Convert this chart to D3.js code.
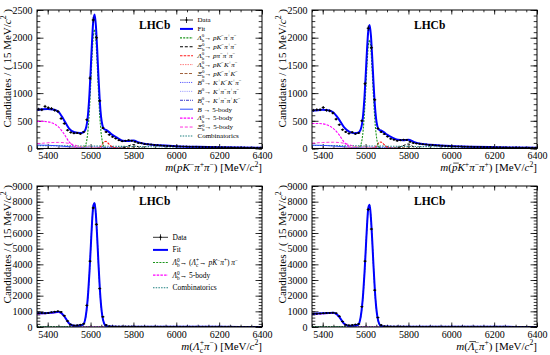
<!DOCTYPE html>
<meta charset="utf-8">
<style>
body{margin:0;background:#fff}
svg{display:block}
text{font-family:"Liberation Serif","Times New Roman",serif;fill:#000}
</style>
<svg width="550" height="355"></svg>
<script src="https://d3js.org/d3.v7.min.js"></script>
<script>
// binning of all four mass spectra
const massLo = 5350, massHi = 6400, binWidth = 15;
const massTicks = [5400, 5600, 5800, 6000, 6200, 6400];

// data: candidates per 15 MeV bin
const dataPKpipi = [
  710, 700, 760, 735, 720, 690, 670, 540, 450, 330,
  290, 275, 280, 265, 300, 520, 1270, 2320, 2000, 860,
  370, 300, 250, 210, 180, 150, 130, 140, 150, 140,
  120, 100, 95, 80, 75, 70, 65, 60, 55, 50,
  45, 45, 40, 40, 38, 35, 36, 33, 30, 32,
  28, 27, 29, 25, 24, 26, 22, 21, 23, 20,
  18, 19, 17, 16, 18, 15, 14, 15, 13, 12];
const dataPbarKpipi = [
  690, 700, 700, 740, 690, 680, 640, 530, 430, 340,
  300, 270, 295, 265, 280, 500, 1170, 2170, 1820, 880,
  360, 300, 260, 215, 175, 160, 140, 150, 160, 155,
  120, 100, 90, 85, 75, 70, 65, 62, 56, 52,
  48, 44, 42, 40, 38, 36, 35, 33, 31, 30,
  29, 27, 28, 25, 24, 25, 22, 21, 22, 20,
  19, 18, 17, 17, 16, 15, 15, 14, 13, 12];
const dataLcpi = [
  880, 900, 880, 900, 940, 980, 1000, 960, 720, 380,
  160, 100, 110, 150, 200, 1380, 4200, 7600, 6550, 2450,
  650, 130, 50, 35, 30, 28, 27, 26, 25, 24,
  23, 22, 22, 21, 20, 20, 19, 18, 18, 17,
  16, 16, 15, 15, 14, 14, 13, 13, 12, 12,
  11, 11, 10, 10, 10, 9, 9, 9, 8, 8,
  8, 7, 7, 7, 7, 6, 6, 6, 6, 5];
const dataLcbarpi = [
  840, 850, 860, 870, 890, 900, 910, 880, 680, 350,
  150, 110, 120, 160, 190, 1300, 4200, 7500, 6250, 2350,
  600, 120, 45, 33, 30, 28, 26, 25, 24, 23,
  22, 22, 21, 20, 20, 19, 18, 18, 17, 16,
  16, 15, 15, 14, 14, 13, 13, 12, 12, 11,
  11, 10, 10, 10, 9, 9, 9, 8, 8, 8,
  7, 7, 7, 7, 6, 6, 6, 6, 5, 5];

// fit curves and components, [mass, candidates]
const fitPKpipi = [[5350,700],[5375,710],[5400,715],[5425,705],[5450,665],[5475,520],[5500,360],[5525,292],[5550,278],[5565,288],[5577,350],[5589,659],[5595,998],[5601,1458],[5607,1949],[5613,2316],[5619,2418],[5625,2211],[5631,1780],[5637,1282],[5643,855],[5649,571],[5655,425],[5663,352],[5672,335],[5685,300],[5700,250],[5725,190],[5750,140],[5775,135],[5800,145],[5825,110],[5850,85],[5900,65],[5950,52],[6000,42],[6100,30],[6200,22],[6300,16],[6400,12]];
const sigPKpipi = [[5350,0],[5550,0],[5565,6],[5577,65],[5589,374],[5595,715],[5601,1178],[5607,1671],[5613,2041],[5619,2146],[5625,1941],[5631,1512],[5637,1014],[5643,585],[5649,291],[5655,125],[5663,32],[5672,5],[5685,0],[6400,0]];
const xibPKpipi = [[5350,0],[5725,0],[5750,10],[5775,45],[5800,72],[5825,25],[5850,3],[5900,0],[6400,0]];
const lbPpipiPKpipi = [[5350,0],[5625,0],[5637,8],[5643,20],[5649,45],[5655,80],[5663,118],[5672,128],[5685,82],[5700,30],[5725,4],[5750,0],[6400,0]];
const lbPKKpi = [[5350,0],[5480,5],[5540,25],[5580,30],[5620,15],[5680,0],[6400,0]];
const xibPKpiK = [[5350,0],[5680,0],[5730,10],[5770,15],[5810,5],[5850,0],[6400,0]];
const b0KKKpi = [[5350,0],[5500,5],[5560,20],[5600,28],[5640,20],[5700,5],[5760,0],[6400,0]];
const b0Kpipipi = [[5350,0],[5560,5],[5620,25],[5660,30],[5700,15],[5760,2],[5800,0],[6400,0]];
const bsKpipiK = [[5350,0],[5600,3],[5660,15],[5700,20],[5740,10],[5800,0],[6400,0]];
const b5PKpipi = [[5350,62],[5400,58],[5450,48],[5500,32],[5550,12],[5600,2],[5650,0],[6400,0]];
const lb5PKpipi = [[5350,490],[5375,490],[5400,482],[5425,455],[5450,390],[5475,270],[5500,120],[5525,35],[5550,5],[5575,0],[6400,0]];
const xb5PKpipi = [[5350,85],[5375,95],[5400,103],[5425,108],[5450,110],[5475,105],[5500,92],[5525,65],[5550,30],[5575,8],[5600,0],[6400,0]];
const combPKpipi = [[5350,52],[5450,49],[5550,46],[5650,42],[5750,38],[5850,34],[5950,30],[6050,25],[6150,20],[6250,15],[6400,10]];

const fitPbarKpipi = [[5350,680],[5375,690],[5400,700],[5425,690],[5450,650],[5475,530],[5500,380],[5525,300],[5550,275],[5565,283],[5577,341],[5589,623],[5595,933],[5601,1353],[5607,1802],[5613,2137],[5619,2230],[5625,2040],[5631,1646],[5637,1192],[5643,802],[5649,541],[5655,404],[5663,339],[5672,325],[5685,295],[5700,250],[5725,195],[5750,158],[5775,150],[5800,160],[5825,120],[5850,90],[5900,68],[5950,54],[6000,44],[6100,32],[6200,24],[6300,17],[6400,13]];
const sigPbarKpipi = [[5350,0],[5550,0],[5565,5],[5577,59],[5589,341],[5595,653],[5601,1075],[5607,1526],[5613,1863],[5619,1959],[5625,1772],[5631,1380],[5637,926],[5643,534],[5649,266],[5655,114],[5663,29],[5672,5],[5685,0],[6400,0]];
const xibPbarKpipi = [[5350,0],[5725,0],[5750,12],[5775,50],[5800,82],[5825,28],[5850,3],[5900,0],[6400,0]];
const lbPpipiPbarKpipi = [[5350,0],[5625,0],[5637,8],[5643,18],[5649,40],[5655,72],[5663,108],[5672,118],[5685,75],[5700,28],[5725,4],[5750,0],[6400,0]];
const b5PbarKpipi = [[5350,60],[5400,56],[5450,46],[5500,30],[5550,12],[5600,2],[5650,0],[6400,0]];
const lb5PbarKpipi = [[5350,450],[5375,452],[5400,445],[5425,420],[5450,360],[5475,255],[5500,115],[5525,35],[5550,5],[5575,0],[6400,0]];
const xb5PbarKpipi = [[5350,95],[5375,102],[5400,108],[5425,112],[5450,113],[5475,108],[5500,95],[5525,68],[5550,32],[5575,8],[5600,0],[6400,0]];
const combPbarKpipi = [[5350,55],[5450,52],[5550,48],[5650,44],[5750,40],[5850,35],[5950,31],[6050,26],[6150,21],[6250,16],[6400,11]];

const fitLcpi = [[5350,870],[5375,880],[5400,900],[5425,930],[5450,970],[5475,730],[5500,230],[5525,80],[5550,98],[5565,150],[5577,645],[5589,2225],[5595,3545],[5601,5125],[5607,6715],[5613,7760],[5619,7920],[5625,7140],[5631,5688],[5637,4005],[5643,2490],[5649,1378],[5655,678],[5663,229],[5672,68],[5685,30],[5700,25],[5750,22],[5800,20],[5900,17],[6000,15],[6200,10],[6400,6]];
const sigLcpi = [[5350,0],[5500,0],[5525,10],[5550,70],[5565,120],[5577,620],[5589,2200],[5595,3520],[5601,5100],[5607,6690],[5613,7735],[5619,7895],[5625,7115],[5631,5663],[5637,3980],[5643,2465],[5649,1353],[5655,653],[5663,204],[5672,43],[5685,5],[5700,0],[6400,0]];
const lb5Lcpi = [[5350,835],[5375,845],[5400,865],[5425,895],[5450,935],[5475,700],[5500,200],[5525,30],[5550,2],[5575,0],[6400,0]];
const combLcpi = [[5350,35],[5450,32],[5550,28],[5650,25],[5750,22],[5850,19],[6000,15],[6200,10],[6400,6]];

const fitLcbarpi = [[5350,835],[5375,855],[5400,875],[5425,895],[5450,912],[5475,690],[5500,210],[5525,70],[5550,95],[5565,145],[5577,630],[5589,2170],[5595,3455],[5601,4995],[5607,6545],[5613,7620],[5619,7800],[5625,6960],[5631,5545],[5637,3905],[5643,2425],[5649,1345],[5655,662],[5663,223],[5672,66],[5685,30],[5700,25],[5750,22],[5800,20],[5900,17],[6000,15],[6200,10],[6400,6]];
const sigLcbarpi = [[5350,0],[5500,0],[5525,10],[5550,68],[5565,117],[5577,605],[5589,2145],[5595,3430],[5601,4970],[5607,6520],[5613,7590],[5619,7770],[5625,6935],[5631,5520],[5637,3880],[5643,2400],[5649,1320],[5655,637],[5663,199],[5672,42],[5685,5],[5700,0],[6400,0]];
const lb5Lcbarpi = [[5350,800],[5375,820],[5400,840],[5425,860],[5450,877],[5475,660],[5500,180],[5525,25],[5550,2],[5575,0],[6400,0]];
const combLcbarpi = [[5350,35],[5450,32],[5550,28],[5650,25],[5750,22],[5850,19],[6000,15],[6200,10],[6400,6]];

// legend text
const legendTop = ["Data", "Fit",
  "|Λ|_{b}^{0}→ |pK|^{−}|π|^{+}|π|^{−}",
  "|Ξ|_{b}^{0}→ |pK|^{−}|π|^{+}|π|^{−}",
  "|Λ|_{b}^{0}→ |pπ|^{−}|π|^{+}|π|^{−}",
  "|Λ|_{b}^{0}→ |pK|^{−}|K|^{+}|π|^{−}",
  "|Ξ|_{b}^{0}→ |pK|^{−}|π|^{+}|K|^{−}",
  "|B|^{0}→ |K|^{+}|K|^{−}|K|^{+}|π|^{−}",
  "|B|^{0}→ |K|^{+}|π|^{−}|π|^{+}|π|^{−}",
  "|B|_{s}^{0}→ |K|^{+}|π|^{−}|π|^{+}|K|^{−}",
  "|B| → 5-body",
  "|Λ|_{b}^{0}→ 5-body",
  "|Ξ|_{b}^{0}→ 5-body",
  "Combinatorics"];
const legendTopKeys = ["data","fit","sig","xib","lbppp","lbpkk","xibpk","b0kkk","b0kpp","bs","b5","lb5","xb5","comb"];
const legendBottom = ["Data", "Fit",
  "|Λ|_{b}^{0}→ (|Λ|_{c}^{+}→ |pK|^{−}|π|^{+}) |π|^{−}",
  "|Λ|_{b}^{0}→ 5-body",
  "Combinatorics"];
const legendBottomKeys = ["data","fit","sig","lb5","comb"];

const styles = {
  fit:   {stroke: "#0000ff", dash: null, w: 2},
  sig:   {stroke: "#1b951b", dash: "2,1.2", w: 1.1},
  xib:   {stroke: "#000000", dash: "3,1.8", w: 1},
  lbppp: {stroke: "#ff1a1a", dash: "2.5,1.2", w: 1.1},
  lbpkk: {stroke: "#ff8080", dash: "1.5,1", w: 1},
  xibpk: {stroke: "#a0603a", dash: "3,1.5", w: 1},
  b0kkk: {stroke: "#5c5cff", dash: "1.2,1", w: 1},
  b0kpp: {stroke: "#a3a3ff", dash: "1.2,1", w: 1},
  bs:    {stroke: "#3a3acc", dash: "3,1,1,1", w: 1},
  b5:    {stroke: "#2b4bff", dash: null, w: 1},
  lb5:   {stroke: "#ff00ff", dash: "2.5,1.2", w: 1.1},
  xb5:   {stroke: "#ff33dd", dash: "3,1.8", w: 1},
  comb:  {stroke: "#1f8080", dash: "1.5,1.2", w: 1.1}
};

const panels = [
  {x0: 37, x1: 262, y0: 10, y1: 148.5, yMax: 2500, yStep: 500, yMinor: 100,
   data: dataPKpipi, fit: fitPKpipi,
   comps: [["comb",combPKpipi],["b5",b5PKpipi],["xb5",xb5PKpipi],["lb5",lb5PKpipi],["bs",bsKpipiK],["b0kpp",b0Kpipipi],["b0kkk",b0KKKpi],["xibpk",xibPKpiK],["lbpkk",lbPKKpi],["lbppp",lbPpipiPKpipi],["xib",xibPKpipi],["sig",sigPKpipi]],
   xTitle: "|m|(|pK|^{−}|π|^{+}|π|^{−}) [MeV/|c|^{2}]",
   legend: {labels: legendTop, keys: legendTopKeys, x: 180, y: 20, dy: 8.92, len: 13, fs: 7}},
  {x0: 312, x1: 537, y0: 10, y1: 148.5, yMax: 2500, yStep: 500, yMinor: 100,
   data: dataPbarKpipi, fit: fitPbarKpipi,
   comps: [["comb",combPbarKpipi],["b5",b5PbarKpipi],["xb5",xb5PbarKpipi],["lb5",lb5PbarKpipi],["bs",bsKpipiK],["b0kpp",b0Kpipipi],["b0kkk",b0KKKpi],["xibpk",xibPKpiK],["lbpkk",lbPKKpi],["lbppp",lbPpipiPbarKpipi],["xib",xibPbarKpipi],["sig",sigPbarKpipi]],
   xTitle: "|m|(~{p}|K|^{+}|π|^{−}|π|^{+}) [MeV/|c|^{2}]"},
  {x0: 37, x1: 262, y0: 186, y1: 327, yMax: 9000, yStep: 1000, yMinor: 200,
   data: dataLcpi, fit: fitLcpi,
   comps: [["comb",combLcpi],["lb5",lb5Lcpi],["sig",sigLcpi]],
   xTitle: "|m|(|Λ|_{c}^{+}|π|^{−}) [MeV/|c|^{2}]",
   legend: {labels: legendBottom, keys: legendBottomKeys, x: 153, y: 237.3, dy: 12.6, len: 15, fs: 7.5}},
  {x0: 312, x1: 537, y0: 186, y1: 327, yMax: 9000, yStep: 1000, yMinor: 200,
   data: dataLcbarpi, fit: fitLcbarpi,
   comps: [["comb",combLcbarpi],["lb5",lb5Lcbarpi],["sig",sigLcbarpi]],
   xTitle: "|m|(~{Λ}_{c}^{−}|π|^{+}) [MeV/|c|^{2}]"}
];

const svg = d3.select("svg");

// tiny TLatex-like markup: |..| italic, _{..} sub, ^{..} sup, ~{..} overline
function rich(sel, src) {
  const fs = parseFloat(sel.attr("font-size"));
  let italic = false, cur = 0, pendingDx = 0, i = 0, buf = "", nChars = 0;
  const bars = [];
  function span(txt, size, shift) {
    const t = sel.append("tspan").text(txt)
      .attr("font-size", size)
      .attr("font-style", italic ? "italic" : "normal")
      .attr("dy", shift - cur);
    cur = shift;
    nChars += txt.length;
    if (pendingDx) { t.attr("dx", pendingDx); pendingDx = 0; }
    return t;
  }
  function group(j) {
    const k = src.indexOf("}", j);
    return [src.slice(j + 1, k), k + 1];
  }
  const flush = () => { if (buf) { span(buf, fs, 0); buf = ""; } };
  while (i < src.length) {
    const c = src[i];
    if (c === "|") { flush(); italic = !italic; i++; }
    else if (c === "_" || c === "^") {
      flush();
      const [g1, n1] = group(i + 1);
      const s1 = span(g1, fs * 0.7, c === "_" ? fs * 0.3 : -fs * 0.4);
      i = n1;
      if (c === "_" && src[i] === "^") {
        const [g2, n2] = group(i + 1);
        const w1 = s1.node().getComputedTextLength();
        pendingDx = -w1;
        const s2 = span(g2, fs * 0.7, -fs * 0.4);
        pendingDx = Math.max(0, w1 - s2.node().getComputedTextLength());
        i = n2;
      }
    }
    else if (c === "~") {
      flush();
      const [g, n] = group(i + 1);
      const was = italic; italic = true;
      bars.push([nChars, g.length]);
      span(g, fs, 0);
      italic = was; i = n;
    }
    else { buf += c; i++; }
  }
  flush();
  // overlines drawn as lines above the marked letters
  const node = sel.node();
  bars.forEach(([s, len]) => {
    const a = node.getStartPositionOfChar(s), b = node.getEndPositionOfChar(s + len - 1);
    d3.select(node.parentNode).append("line")
      .attr("x1", a.x + fs * 0.12).attr("x2", b.x + fs * 0.12)
      .attr("y1", a.y - fs * 0.72).attr("y2", a.y - fs * 0.72)
      .attr("stroke", "#000").attr("stroke-width", 0.7);
  });
}

function styleLine(sel, key) {
  const s = styles[key];
  sel.attr("fill", "none").attr("stroke", s.stroke).attr("stroke-width", s.w)
    .attr("stroke-dasharray", s.dash);
}

panels.forEach((p, pi) => {
  const x = d3.scaleLinear().domain([massLo, massHi]).range([p.x0, p.x1]);
  const y = d3.scaleLinear().domain([0, p.yMax]).range([p.y1, p.y0]);
  const g = svg.append("g");

  const clipId = "clip" + pi;
  svg.append("clipPath").attr("id", clipId).append("rect")
    .attr("x", p.x0).attr("y", p.y0).attr("width", p.x1 - p.x0).attr("height", p.y1 - p.y0);

  // axes, ROOT style ticks inside on all sides
  const xMinor = d3.range(massLo, massHi + 1, 50);
  const yMinor = d3.range(0, p.yMax + 1, p.yMinor);
  const yMajor = d3.range(0, p.yMax + 1, p.yStep);
  const axes = [
    [d3.axisBottom(x).tickValues(massTicks).tickSize(-4.5).tickPadding(3.5).tickFormat(d3.format("d")), `translate(0,${p.y1})`, true],
    [d3.axisBottom(x).tickValues(xMinor).tickSize(-2.3).tickFormat(""), `translate(0,${p.y1})`],
    [d3.axisTop(x).tickValues(massTicks).tickSize(-4.5).tickFormat(""), `translate(0,${p.y0})`],
    [d3.axisTop(x).tickValues(xMinor).tickSize(-2.3).tickFormat(""), `translate(0,${p.y0})`],
    [d3.axisLeft(y).tickValues(yMajor).tickSize(-6.5).tickPadding(4.5).tickFormat(d3.format("d")), `translate(${p.x0},0)`, true],
    [d3.axisLeft(y).tickValues(yMinor).tickSize(-3.3).tickFormat(""), `translate(${p.x0},0)`],
    [d3.axisRight(y).tickValues(yMajor).tickSize(-6.5).tickFormat(""), `translate(${p.x1},0)`],
    [d3.axisRight(y).tickValues(yMinor).tickSize(-3.3).tickFormat(""), `translate(${p.x1},0)`]
  ];
  axes.forEach(([ax, tr, labels]) => {
    const a = g.append("g").attr("transform", tr).call(ax);
    a.select(".domain").remove();
    a.selectAll("line").attr("stroke", "#000").attr("stroke-width", 0.8);
    a.selectAll("text").attr("font-family", null).attr("font-size", 10).attr("fill", "#000");
    if (!labels) a.selectAll("text").remove();
  });

  // components, fit, then data on top
  const line = d3.line().x(d => x(d[0])).y(d => y(d[1])).curve(d3.curveMonotoneX);
  const plot = g.append("g").attr("clip-path", `url(#${clipId})`);
  p.comps.forEach(([key, pts]) => {
    plot.append("path").attr("d", line(pts)).call(styleLine, key);
  });
  plot.append("path").attr("d", line(p.fit)).call(styleLine, "fit");

  const pts = p.data.map((n, k) => ({m: massLo + binWidth * (k + 0.5), n: n, e: Math.sqrt(n)}));
  const dg = plot.append("g").attr("stroke", "#000").attr("stroke-width", 0.8);
  dg.selectAll(".v").data(pts).join("line")
    .attr("x1", d => x(d.m)).attr("x2", d => x(d.m))
    .attr("y1", d => y(d.n - d.e)).attr("y2", d => y(d.n + d.e));
  dg.selectAll(".h").data(pts).join("line")
    .attr("x1", d => x(d.m - binWidth / 2)).attr("x2", d => x(d.m + binWidth / 2))
    .attr("y1", d => y(d.n)).attr("y2", d => y(d.n));
  plot.append("g").selectAll("circle").data(pts).join("circle")
    .attr("cx", d => x(d.m)).attr("cy", d => y(d.n)).attr("r", 1).attr("fill", "#000");

  // frame
  g.append("rect").attr("x", p.x0).attr("y", p.y0)
    .attr("width", p.x1 - p.x0).attr("height", p.y1 - p.y0)
    .attr("fill", "none").attr("stroke", "#000").attr("stroke-width", 1);

  // titles
  const yt = g.append("text").attr("font-size", 11).attr("text-anchor", "end")
    .attr("transform", `translate(${p.x0 - 26.5},${p.y0 - 1}) rotate(-90)`);
  rich(yt, "Candidates / ( 15 MeV/|c|^{2} )");
  const xt = g.append("text").attr("font-size", 11).attr("text-anchor", "end")
    .attr("x", p.x1).attr("y", p.y1 + 22.5);
  rich(xt, p.xTitle);
  g.append("text").attr("x", p.x0 + 102).attr("y", p.y0 + 18.5)
    .attr("font-size", 11.5).attr("font-weight", "bold").text("LHCb");

  // legend
  if (p.legend) {
    const L = p.legend;
    const lg = g.append("g");
    L.labels.forEach((lab, j) => {
      const key = L.keys[j], yy = L.y + j * L.dy;
      if (key === "data") {
        lg.append("line").attr("x1", L.x).attr("x2", L.x + L.len).attr("y1", yy).attr("y2", yy)
          .attr("stroke", "#000").attr("stroke-width", 0.8);
        lg.append("line").attr("x1", L.x + L.len / 2).attr("x2", L.x + L.len / 2)
          .attr("y1", yy - 3).attr("y2", yy + 3).attr("stroke", "#000").attr("stroke-width", 0.8);
        lg.append("circle").attr("cx", L.x + L.len / 2).attr("cy", yy).attr("r", 1).attr("fill", "#000");
      } else {
        lg.append("line").attr("x1", L.x).attr("x2", L.x + L.len).attr("y1", yy).attr("y2", yy)
          .call(styleLine, key);
      }
      const t = lg.append("text").attr("x", L.x + L.len + 4.5).attr("y", yy + L.fs * 0.33)
        .attr("font-size", L.fs);
      rich(t, lab);
    });
  }
});
</script>
